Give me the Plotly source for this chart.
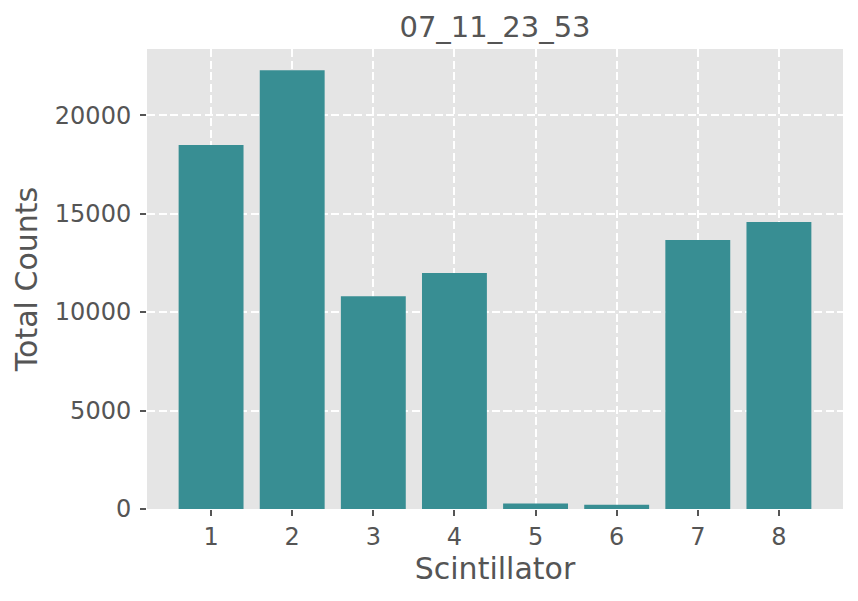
import plotly.graph_objects as go

scintillators = [1, 2, 3, 4, 5, 6, 7, 8]
total_counts = [18480, 22280, 10810, 11980, 280, 210, 13660, 14570]
y_ticks = [0, 5000, 10000, 15000, 20000]

# the page body adds an 8px margin, so the figure is 8px smaller and shifted
fig = go.Figure()
fig.add_trace(go.Bar(
    x=scintillators,
    y=total_counts,
    width=0.8,
    marker=dict(color='#388E93', line=dict(width=0)),
))

fig.update_layout(
    width=850,
    height=593,
    margin=dict(l=139, r=15, t=41, b=92),
    paper_bgcolor='white',
    plot_bgcolor='#E5E5E5',
    font=dict(family='DejaVu Sans', color='#555555', size=24),
    title=dict(text='07_11_23_53', x=0.5, xref='paper', xanchor='center',
               y=0.968, yref='container', yanchor='middle',
               font=dict(size=29, color='#555555')),
    showlegend=False,
    xaxis=dict(
        range=[0.21, 8.79],
        tickvals=scintillators,
        ticks='outside', ticklen=6, tickwidth=2, tickcolor='#555555',
        showgrid=True, gridcolor='white', griddash='8px,3.5px', gridwidth=1.6,
        zeroline=False, showline=False,
        title=dict(text='Scintillator', font=dict(size=30, color='#555555'), standoff=6),
    ),
    yaxis=dict(
        range=[0, 23360],
        tickvals=y_ticks,
        tickformat='d',
        ticks='outside', ticklen=6, tickwidth=2, tickcolor='#555555',
        ticklabelstandoff=4,
        showgrid=True, gridcolor='white', griddash='8px,3.5px', gridwidth=1.6,
        zeroline=False, showline=False,
        title=dict(text='Total Counts', font=dict(size=30, color='#555555'), standoff=8),
    ),
)

fig.write_html("out.html")
